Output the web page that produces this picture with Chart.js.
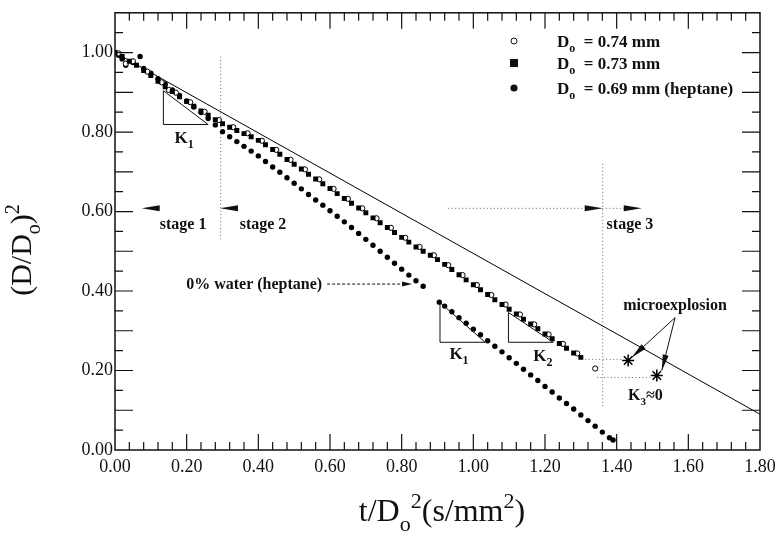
<!DOCTYPE html>
<html>
<head>
<meta charset="utf-8">
<script src="https://cdn.jsdelivr.net/npm/chart.js@4.4.1/dist/chart.umd.min.js"></script>
<style>
  html, body { margin: 0; padding: 0; background: #fff; }
</style>
</head>
<body>
<canvas id="chart" width="783" height="535"></canvas>
<script>
// tick labels
const xTickVals = [0, 0.2, 0.4, 0.6, 0.8, 1.0, 1.2, 1.4, 1.6, 1.8];
const yTickVals = [0, 0.2, 0.4, 0.6, 0.8, 1.0];

// D0 = 0.73 mm (filled squares)
const sqX = [0.00,0.02,0.04,0.06,0.08,0.10,0.12,0.14,0.16,0.18,0.20,0.22,0.24,0.26,0.28,0.30,0.32,0.34,0.36,0.38,
  0.40,0.42,0.44,0.46,0.48,0.50,0.52,0.54,0.56,0.58,0.60,0.62,0.64,0.66,0.68,0.70,0.72,0.74,0.76,0.78,
  0.80,0.82,0.84,0.86,0.88,0.90,0.92,0.94,0.96,0.98,1.00,1.02,1.04,1.06,1.08,1.10,1.12,1.14,1.16,1.18,
  1.20,1.22,1.24,1.26,1.28,1.30];
const sqY = [1.000,0.990,0.978,0.968,0.955,0.942,0.928,0.914,0.902,0.889,0.877,0.865,0.853,0.842,0.831,0.821,0.812,0.804,0.796,0.788,
  0.779,0.768,0.756,0.744,0.731,0.719,0.707,0.694,0.682,0.670,0.658,0.645,0.633,0.621,0.609,0.597,0.584,0.572,0.560,0.547,
  0.535,0.523,0.511,0.500,0.490,0.479,0.467,0.454,0.441,0.428,0.416,0.403,0.391,0.378,0.366,0.354,0.342,0.329,0.317,0.305,
  0.292,0.280,0.268,0.256,0.244,0.233];

// D0 = 0.74 mm (open circles)
const ocX = [0.01,0.03,0.05,0.09,0.13,0.15,0.17,0.21,0.25,0.29,0.33,0.37,0.41,0.45,0.49,0.53,0.57,0.61,0.65,0.69,
  0.73,0.77,0.81,0.85,0.89,0.93,0.97,1.01,1.05,1.09,1.13,1.17,1.21,1.25,1.29,1.34];
const ocY = [0.998,0.972,0.978,0.952,0.925,0.906,0.899,0.875,0.851,0.830,0.812,0.797,0.778,0.755,0.730,0.706,0.681,0.657,0.632,0.608,
  0.583,0.559,0.534,0.511,0.490,0.465,0.440,0.415,0.390,0.366,0.341,0.316,0.291,0.267,0.243,0.205];

// D0 = 0.69 mm, heptane (filled circles)
const hpX = [0.00,0.01,0.02,0.03,0.05,0.07,0.08,0.10,0.12,0.14,0.16,0.18,0.20,0.22,0.24,0.26,0.28,0.30,0.32,0.34,
  0.36,0.38,0.40,0.42,0.44,0.46,0.48,0.50,0.52,0.54,0.56,0.58,0.60,0.62,0.64,0.66,0.68,0.70,0.72,0.74,
  0.76,0.78,0.80,0.82,0.84,0.86,0.905,0.92,0.94,0.96,0.98,1.00,1.02,1.04,1.06,1.08,1.10,1.12,1.14,1.16,
  1.18,1.20,1.22,1.24,1.26,1.28,1.30,1.32,1.34,1.36,1.38,1.39];
const hpY = [1.000,0.993,0.984,0.968,0.975,0.990,0.960,0.948,0.934,0.921,0.906,0.892,0.878,0.863,0.849,0.834,0.818,0.801,0.788,0.776,
  0.764,0.752,0.740,0.726,0.712,0.699,0.685,0.671,0.657,0.643,0.629,0.616,0.602,0.588,0.574,0.560,0.545,0.530,0.515,0.500,
  0.485,0.470,0.455,0.440,0.426,0.412,0.372,0.362,0.348,0.333,0.319,0.304,0.290,0.275,0.261,0.247,0.232,0.218,0.203,0.189,
  0.175,0.160,0.146,0.131,0.117,0.103,0.088,0.074,0.060,0.045,0.031,0.025];

// reference straight line
const refX = [0.0, 1.8];
const refY = [1.0, 0.09];

// microexplosion points
const mxX = [1.432, 1.512];
const mxY = [0.225, 0.1875];

const pts = (xs, ys) => xs.map((x, i) => ({ x: x, y: ys[i] }));

const SERIF = '"Liberation Serif", "Times New Roman", serif';
const INK = '#111';

function rich(ctx, parts, x, y, size, weight, align) {
  let w = 0;
  const fontOf = p => weight + ' ' + (p.sub || p.sup ? Math.round(size * 0.68) : size) + 'px ' + SERIF;
  parts.forEach(p => { ctx.font = fontOf(p); p.w = ctx.measureText(p.t).width; w += p.w; });
  let cx = align === 'center' ? x - w / 2 : (align === 'right' ? x - w : x);
  ctx.textAlign = 'left';
  ctx.textBaseline = 'alphabetic';
  parts.forEach(p => {
    ctx.font = fontOf(p);
    const dy = p.sub ? size * 0.3 : (p.sup ? -size * 0.4 : 0);
    ctx.fillText(p.t, cx, y + dy);
    cx += p.w;
  });
}

function arrowHead(ctx, x1, y1, x2, y2, len, half) {
  const a = Math.atan2(y2 - y1, x2 - x1);
  ctx.beginPath();
  ctx.moveTo(x2, y2);
  ctx.lineTo(x2 - len * Math.cos(a) + half * Math.sin(a), y2 - len * Math.sin(a) - half * Math.cos(a));
  ctx.lineTo(x2 - len * Math.cos(a) - half * Math.sin(a), y2 - len * Math.sin(a) + half * Math.cos(a));
  ctx.closePath();
  ctx.fill();
}

const decor = {
  id: 'decor',
  afterDraw(chart) {
    const ctx = chart.ctx;
    const a = chart.chartArea;
    const xs = chart.scales.x, ys = chart.scales.y;
    const X = v => xs.getPixelForValue(v), Y = v => ys.getPixelForValue(v);
    ctx.save();
    ctx.strokeStyle = INK;
    ctx.fillStyle = INK;

    // frame
    ctx.lineWidth = 1.5;
    ctx.strokeRect(a.left, a.top, a.right - a.left, a.bottom - a.top);

    // inward ticks
    ctx.lineWidth = 1.2;
    ctx.beginPath();
    for (let i = 1; i < 45; i++) {
      const px = X(i * 0.04), L = i % 5 === 0 ? 16 : 8;
      ctx.moveTo(px, a.bottom); ctx.lineTo(px, a.bottom - L);
      ctx.moveTo(px, a.top); ctx.lineTo(px, a.top + L);
    }
    for (let i = 1; i < 22; i++) {
      const py = Y(i * 0.05), L = i % 2 === 0 ? 18 : 8;
      ctx.moveTo(a.left, py); ctx.lineTo(a.left + L, py);
      ctx.moveTo(a.right, py); ctx.lineTo(a.right - L, py);
    }
    ctx.stroke();

    // K triangles
    ctx.lineWidth = 1;
    [[0.135, 0.904, 0.26, 0.819], [0.907, 0.371, 1.033, 0.271], [1.098, 0.346, 1.223, 0.271]].forEach(t => {
      ctx.beginPath();
      ctx.moveTo(X(t[0]), Y(t[1]));
      ctx.lineTo(X(t[0]), Y(t[3]));
      ctx.lineTo(X(t[2]), Y(t[3]));
      ctx.closePath();
      ctx.stroke();
    });

    // dotted guides
    ctx.save();
    ctx.strokeStyle = '#666';
    ctx.setLineDash([1, 2.5]);
    ctx.beginPath();
    ctx.moveTo(X(0.295), Y(0.99)); ctx.lineTo(X(0.295), Y(0.53));
    ctx.moveTo(X(1.361), Y(0.72)); ctx.lineTo(X(1.361), Y(0.11));
    ctx.moveTo(X(0.93), Y(0.608)); ctx.lineTo(X(1.31), Y(0.608));
    ctx.moveTo(X(1.36), Y(0.608)); ctx.lineTo(X(1.42), Y(0.608));
    ctx.moveTo(X(1.312), Y(0.228)); ctx.lineTo(X(1.418), Y(0.228));
    ctx.moveTo(X(1.345), Y(0.1825)); ctx.lineTo(X(1.50), Y(0.1825));
    ctx.stroke();
    ctx.setLineDash([3, 2]);
    ctx.strokeStyle = INK;
    ctx.beginPath();
    ctx.moveTo(X(0.592), Y(0.4175)); ctx.lineTo(X(0.80), Y(0.4175));
    ctx.stroke();
    ctx.restore();

    // stage arrows
    arrowHead(ctx, X(0.126), Y(0.608), X(0.0745), Y(0.608), 18, 3);
    arrowHead(ctx, X(0.343), Y(0.608), X(0.293), Y(0.608), 18, 3);
    arrowHead(ctx, X(1.31), Y(0.608), X(1.361), Y(0.608), 18, 3);
    arrowHead(ctx, X(1.42), Y(0.608), X(1.47), Y(0.608), 18, 3);
    arrowHead(ctx, X(0.592), Y(0.4175), X(0.829), Y(0.4175), 10, 2.5);

    // microexplosion arrows
    ctx.lineWidth = 1;
    ctx.beginPath();
    ctx.moveTo(X(1.563), Y(0.333)); ctx.lineTo(X(1.442), Y(0.233));
    ctx.moveTo(X(1.563), Y(0.333)); ctx.lineTo(X(1.526), Y(0.20));
    ctx.stroke();
    arrowHead(ctx, X(1.563), Y(0.333), X(1.442), Y(0.233), 16, 3);
    arrowHead(ctx, X(1.563), Y(0.333), X(1.526), Y(0.20), 16, 3);

    // annotation text
    rich(ctx, [{ t: 'stage 1' }], X(0.19), Y(0.555), 16, 'bold', 'center');
    rich(ctx, [{ t: 'stage 2' }], X(0.413), Y(0.555), 16, 'bold', 'center');
    rich(ctx, [{ t: 'stage 3' }], X(1.437), Y(0.555), 16, 'bold', 'center');
    rich(ctx, [{ t: '0% water (heptane)' }], X(0.578), Y(0.405), 16, 'bold', 'right');
    rich(ctx, [{ t: 'microexplosion' }], X(1.563), Y(0.352), 16, 'bold', 'center');
    rich(ctx, [{ t: 'K' }, { t: '3', sub: true }, { t: '\u22480' }], X(1.48), Y(0.125), 16, 'bold', 'center');
    rich(ctx, [{ t: 'K' }, { t: '1', sub: true }], X(0.193), Y(0.772), 17, 'bold', 'center');
    rich(ctx, [{ t: 'K' }, { t: '1', sub: true }], X(0.96), Y(0.23), 17, 'bold', 'center');
    rich(ctx, [{ t: 'K' }, { t: '2', sub: true }], X(1.194), Y(0.225), 17, 'bold', 'center');

    // legend
    const rows = [
      { y: 47, label: '= 0.74 mm', mark: 'oc' },
      { y: 69, label: '= 0.73 mm', mark: 'sq' },
      { y: 94, label: '= 0.69 mm (heptane)', mark: 'fc' }
    ];
    rows.forEach(r => {
      const my = r.y - 6;
      ctx.beginPath();
      if (r.mark === 'oc') {
        ctx.arc(514, my, 3, 0, Math.PI * 2);
        ctx.fillStyle = '#fff'; ctx.fill(); ctx.fillStyle = INK; ctx.stroke();
      } else if (r.mark === 'sq') {
        ctx.fillRect(510, my - 4, 8, 8);
      } else {
        ctx.arc(514, my, 3.6, 0, Math.PI * 2); ctx.fill();
      }
      rich(ctx, [{ t: 'D' }, { t: 'o', sub: true }, { t: '  ' + r.label }], 557, r.y, 17, 'bold', 'left');
    });

    // axis titles
    rich(ctx, [{ t: 't/D' }, { t: 'o', sub: true }, { t: '2', sup: true }, { t: '(s/mm' }, { t: '2', sup: true }, { t: ')' }],
      442, 521, 32, 'normal', 'center');
    ctx.save();
    ctx.translate(31, 250);
    ctx.rotate(-Math.PI / 2);
    rich(ctx, [{ t: '(D/D' }, { t: 'o', sub: true }, { t: ')' }, { t: '2', sup: true }], 0, 0, 30, 'normal', 'center');
    ctx.restore();

    ctx.restore();
  }
};

new Chart(document.getElementById('chart'), {
  type: 'scatter',
  data: {
    datasets: [
      { label: 'D0 = 0.73 mm', data: pts(sqX, sqY), pointStyle: 'rect', pointRadius: 3.5,
        backgroundColor: '#000', borderColor: '#000', borderWidth: 0 },
      { label: 'D0 = 0.74 mm', data: pts(ocX, ocY), pointStyle: 'circle', pointRadius: 2.6,
        backgroundColor: '#fff', borderColor: '#000', borderWidth: 1 },
      { label: 'D0 = 0.69 mm (heptane)', data: pts(hpX, hpY), pointStyle: 'circle', pointRadius: 2.7,
        backgroundColor: '#000', borderColor: '#000', borderWidth: 0 },
      { label: 'reference', type: 'line', data: pts(refX, refY), showLine: true, pointRadius: 0,
        borderColor: '#000', borderWidth: 1, fill: false },
      { label: 'microexplosion', data: pts(mxX, mxY), pointStyle: 'star', pointRadius: 6,
        borderColor: '#000', borderWidth: 1.5 }
    ]
  },
  options: {
    responsive: false,
    animation: false,
    devicePixelRatio: 1,
    layout: { padding: { top: 10, right: 23, left: 0, bottom: 0 } },
    plugins: { legend: { display: false }, tooltip: { enabled: false } },
    scales: {
      x: {
        type: 'linear', min: 0, max: 1.8,
        afterBuildTicks: s => { s.ticks = xTickVals.map(v => ({ value: v })); },
        afterFit: s => { s.height = 85; },
        grid: { display: false, drawTicks: false },
        border: { display: false },
        ticks: { callback: v => v.toFixed(2), color: INK, padding: 6, maxRotation: 0, autoSkip: false,
          font: { family: SERIF, size: 18 } }
      },
      y: {
        type: 'linear', min: 0, max: 1.1,
        afterBuildTicks: s => { s.ticks = yTickVals.map(v => ({ value: v })); },
        afterFit: s => { s.width = 115; },
        grid: { display: false, drawTicks: false },
        border: { display: false },
        ticks: { callback: v => v.toFixed(2), color: INK, padding: 2, autoSkip: false,
          font: { family: SERIF, size: 18 } }
      }
    }
  },
  plugins: [decor]
});
</script>
</body>
</html>
